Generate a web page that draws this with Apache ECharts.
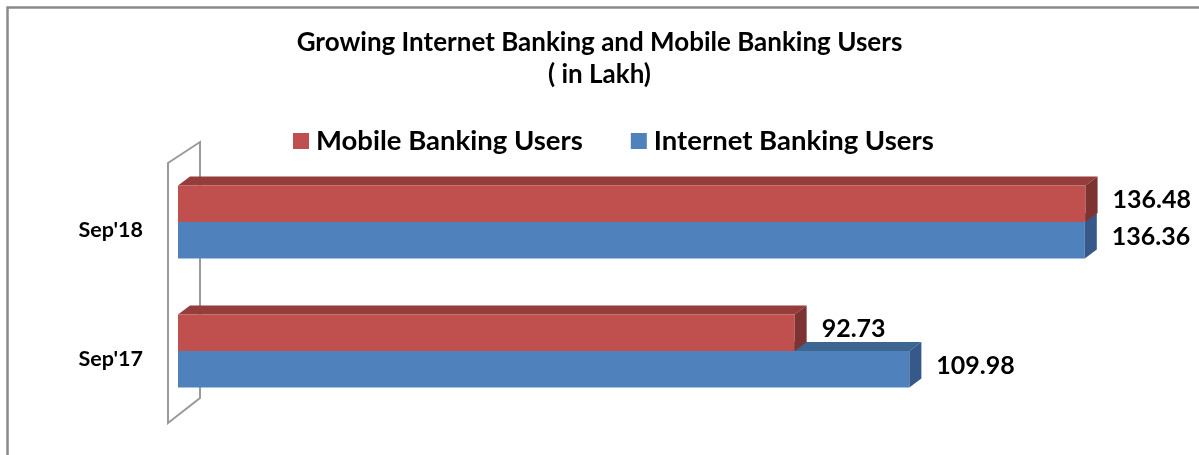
<!DOCTYPE html>
<html>
<head>
<meta charset="utf-8">
<script src="https://cdn.jsdelivr.net/npm/echarts@6/dist/echarts.min.js"></script>
<style>
html,body{margin:0;padding:0;background:#fff;}
#chart{width:1199px;height:455px;}
</style>
</head>
<body>
<div id="chart"></div>
<script>
// ---- data ----
const categories = ["Sep'17", "Sep'18"];
const mobileUsers = [92.73, 136.48];
const internetUsers = [109.98, 136.36];
const seriesNames = ['Mobile Banking Users', 'Internet Banking Users'];
const titleText = 'Growing Internet Banking and Mobile Banking Users\n( in Lakh)';

// ---- styles ----
const FONT = 'Lato';
const colors = {
  mobile: { front: '#C0504D', top: '#943D3A', side: '#7C3331' },
  internet: { front: '#4F81BD', top: '#3D6592', side: '#36598A' }
};
const GRID = { left: 178, top: 157.5, height: 258, width: 997.5 };
const DX = 12, DY = 9;

const chart = echarts.init(document.getElementById('chart'), null, { renderer: 'canvas' });

function makeRender(isUpper, c) {
  return function (params, api) {
    const cat = api.value(0);
    const val = api.value(1);
    const p0 = api.coord([0, cat]);
    const p1 = api.coord([val, cat]);
    const band = api.size([0, 1])[1];
    const h = band * 0.2828;
    const x0 = p0[0], x1 = p1[0];
    const y0 = isUpper ? p1[1] - h : p1[1];
    const children = [
      { type: 'polygon', shape: { points: [[x0, y0], [x0 + DX, y0 - DY], [x1 + DX, y0 - DY], [x1, y0]] }, style: { fill: c.top } },
      { type: 'rect', shape: { x: x0, y: y0, width: x1 - x0, height: h }, style: { fill: c.front } },
      { type: 'polygon', shape: { points: [[x1, y0], [x1 + DX, y0 - DY], [x1 + DX, y0 + h - DY], [x1, y0 + h]] }, style: { fill: c.side } },
      { type: 'text', style: { x: x1 + DX + 15, y: y0 + h / 2 - DY / 2 + 1, text: val.toFixed(2), fill: '#000', font: 'bold 25px ' + FONT, verticalAlign: 'middle', align: 'left' } }
    ];
    return { type: 'group', children: children };
  };
}

const gx0 = GRID.left, gTop = GRID.top, gBot = GRID.top + GRID.height;
const wallFront = gx0 - 10, wallBack = gx0 + 22;

const option = {
  animation: false,
  backgroundColor: '#fff',
  title: {
    text: titleText,
    left: 'center',
    top: 22,
    padding: [5, 16, 5, 5],
    textStyle: { fontFamily: FONT, fontWeight: 'bold', fontSize: 26, color: '#000', lineHeight: 32 }
  },
  legend: {
    data: seriesNames,
    left: 288,
    top: 122,
    itemWidth: 16,
    itemHeight: 16,
    itemGap: 48,
    icon: 'rect',
    textStyle: { fontFamily: FONT, fontWeight: 'bold', fontSize: 27.5, color: '#000', padding: [0, 0, 0, 2] }
  },
  grid: { left: GRID.left, top: GRID.top, height: GRID.height, width: GRID.width },
  xAxis: { type: 'value', min: 0, max: 150, show: false },
  yAxis: {
    type: 'category',
    data: categories,
    axisLine: { show: false },
    axisTick: { show: false },
    splitLine: { show: false },
    axisLabel: { margin: 35, fontFamily: FONT, fontWeight: 'bold', fontSize: 21.5, color: '#000', verticalAlign: 'top', lineHeight: 17 }
  },
  graphic: [
    { type: 'polyline', shape: { points: [[7.5, 455], [7.5, 7.5], [1199, 7.5]] }, style: { stroke: '#8a8a8a', lineWidth: 2.5, fill: null }, z: 10 },
    { type: 'polygon', shape: { points: [[wallFront, gTop + 5.5], [wallBack, gTop - 15.5], [wallBack, gBot - 17.5], [wallFront, gBot + 7.5]] }, style: { stroke: '#9a9a9a', lineWidth: 2, fill: null }, z: -1 }
  ],
  series: [
    {
      name: seriesNames[1], type: 'custom', z: 1,
      itemStyle: { color: colors.internet.front },
      renderItem: makeRender(false, colors.internet),
      encode: { x: 1, y: 0 },
      data: internetUsers.map((v, i) => [i, v])
    },
    {
      name: seriesNames[0], type: 'custom', z: 2,
      itemStyle: { color: colors.mobile.front },
      renderItem: makeRender(true, colors.mobile),
      encode: { x: 1, y: 0 },
      data: mobileUsers.map((v, i) => [i, v])
    }
  ]
};
chart.setOption(option);
</script>
</body>
</html>
